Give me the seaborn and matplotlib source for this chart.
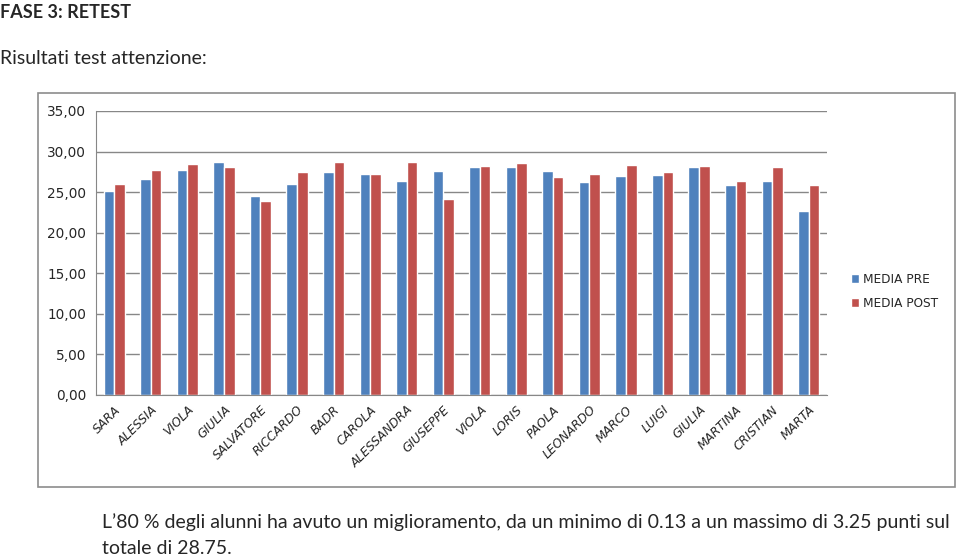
import pandas as pd
import matplotlib
matplotlib.use('Agg')
import matplotlib.pyplot as plt
from matplotlib.patches import Patch, Rectangle
from matplotlib.ticker import FuncFormatter, MultipleLocator
import seaborn as sns

names = ['SARA', 'ALESSIA', 'VIOLA', 'GIULIA', 'SALVATORE', 'RICCARDO', 'BADR',
         'CAROLA', 'ALESSANDRA', 'GIUSEPPE', 'VIOLA', 'LORIS', 'PAOLA', 'LEONARDO',
         'MARCO', 'LUIGI', 'GIULIA', 'MARTINA', 'CRISTIAN', 'MARTA']
media_pre = [25.12, 26.56, 27.74, 28.72, 24.50, 25.98, 27.45, 27.20, 26.35, 27.58,
             28.11, 28.11, 27.58, 26.27, 27.00, 27.17, 28.11, 25.82, 26.35, 22.66]
media_post = [26.06, 27.74, 28.44, 28.11, 23.93, 27.45, 28.72, 27.28, 28.72, 24.20,
              28.23, 28.64, 26.88, 27.20, 28.40, 27.45, 28.23, 26.35, 28.11, 25.82]
series = ['MEDIA PRE', 'MEDIA POST']
colors = ['#4F81BD', '#C0504D']

df = pd.DataFrame({
    'idx': list(range(len(names))) * 2,
    'valore': media_pre + media_post,
    'serie': [series[0]] * len(names) + [series[1]] * len(names),
})

sns.set_style('white')
plt.rcParams['font.family'] = ['Lato', 'DejaVu Sans']
chart_font = 'DejaVu Sans'

W, H = 959, 558
fig = plt.figure(figsize=(W / 100, H / 100), dpi=100)
fig.patch.set_facecolor('white')

# chart frame
fig.patches.append(Rectangle((38 / W, 1 - 487 / H), (955 - 38) / W, (487 - 93) / H,
                             transform=fig.transFigure, fill=False,
                             edgecolor='#8C8C8C', linewidth=1.2))

ax = fig.add_axes([96 / W, 1 - 395 / H, (827 - 96) / W, (395 - 111) / H])
sns.barplot(data=df, x='idx', y='valore', hue='serie', palette=colors,
            width=0.58, gap=0, saturation=1, ax=ax, legend=False)

ax.set_ylim(0, 35)
ax.set_xlim(-0.5, len(names) - 0.5)
ax.yaxis.set_major_locator(MultipleLocator(5))
ax.yaxis.set_major_formatter(FuncFormatter(lambda v, p: f'{v:.2f}'.replace('.', ',')))
ax.grid(axis='y', color='#878787', linewidth=1)
ax.set_axisbelow(True)
for s in ['top', 'right']:
    ax.spines[s].set_visible(False)
ax.spines['left'].set_color('#878787')
ax.spines['bottom'].set_color('#878787')
ax.set_xlabel('')
ax.set_ylabel('')

ax.set_xticks(range(len(names)))
ax.set_xticklabels(names, rotation=45, ha='right', rotation_mode='anchor',
                   fontsize=8.8, style='italic', family=chart_font)
ax.set_xticks([i - 0.5 for i in range(len(names) + 1)], minor=True)
ax.tick_params(axis='x', which='major', length=0, pad=6)
ax.tick_params(axis='x', which='minor', length=4, color='#878787', direction='out')
ax.tick_params(axis='y', length=4, color='#878787', direction='out', labelsize=9.8,
               pad=3, labelfontfamily=chart_font)

handles = [Patch(facecolor=c, label=l) for c, l in zip(colors, series)]
fig.legend(handles=handles, loc='upper left', bbox_to_anchor=(840 / W, 1 - 262 / H),
           frameon=False, handlelength=0.7, handleheight=0.7,
           handletextpad=0.3, labelspacing=0.9,
           prop={'family': chart_font, 'size': 8.7})

fig.text(0 / W, 1 - 12 / H, 'FASE 3: RETEST', fontsize=13, fontweight='bold',
         va='center', ha='left')
fig.text(0 / W, 1 - 58 / H, 'Risultati test attenzione:', fontsize=14,
         va='center', ha='left')
fig.text(102 / W, 1 - 522 / H,
         'L\u201980 % degli alunni ha avuto un miglioramento, da un minimo di 0.13 '
         'a un massimo di 3.25 punti sul', fontsize=14, va='center', ha='left')
fig.text(102 / W, 1 - 548 / H, 'totale di 28.75.', fontsize=14, va='center', ha='left')

fig.savefig('out.png', dpi=100, facecolor='white')
